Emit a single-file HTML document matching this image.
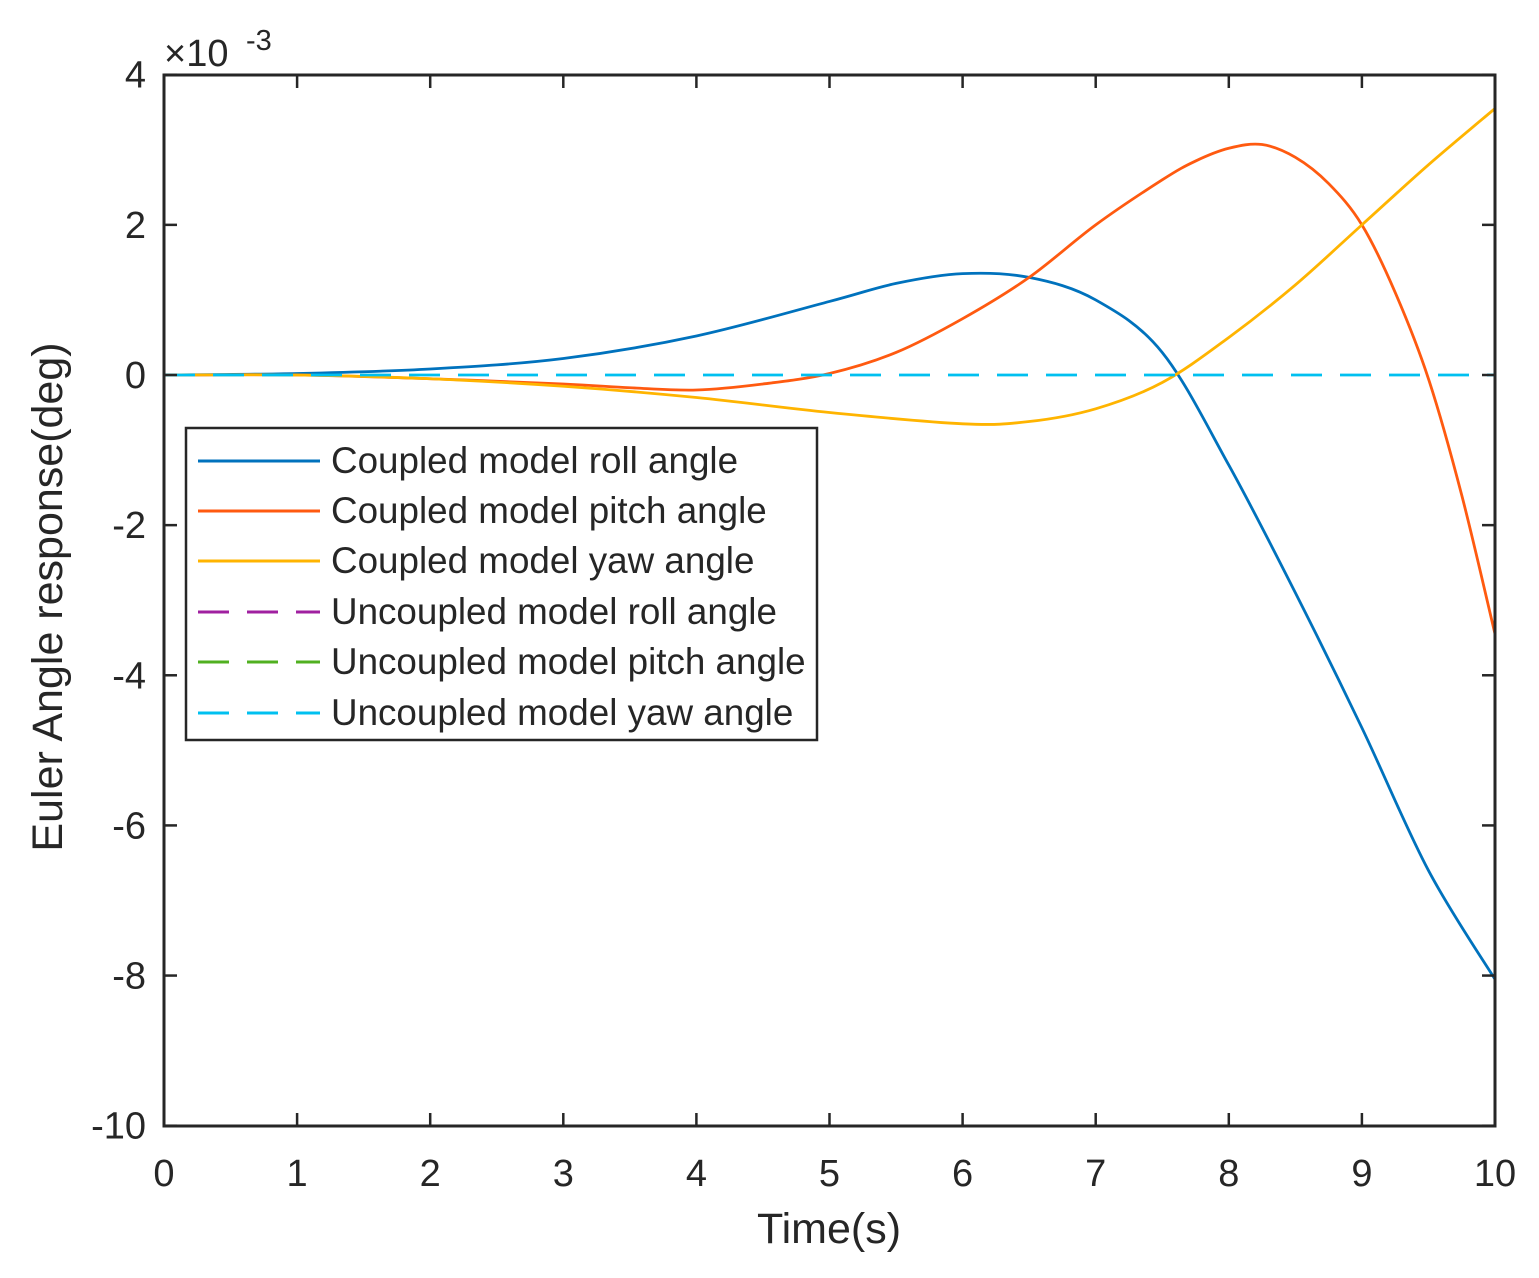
<!DOCTYPE html>
<html><head><meta charset="utf-8"><style>
body{margin:0;background:#fff}
svg text{font-family:"Liberation Sans",Arial,sans-serif;fill:#262626}
</style></head><body>
<svg id="s" width="1539" height="1273" viewBox="0 0 1539 1273" xmlns="http://www.w3.org/2000/svg">
<rect width="1539" height="1273" fill="#fff"/>
<g id="curves" fill="none" stroke-width="2.8"></g>
<line x1="164" y1="375" x2="1495" y2="375" stroke="#00C0F0" stroke-width="2.8" stroke-dasharray="31,18"/>
<rect x="164" y="75" width="1331" height="1051" fill="none" stroke="#262626" stroke-width="3"/>
<g id="ticks" stroke="#262626" stroke-width="2.5"></g>
<g id="labels" font-size="38"></g>
<text x="164" y="66" font-size="38">×10</text>
<text x="246" y="50" font-size="29">-3</text>
<text x="829" y="1243" font-size="43" text-anchor="middle">Time(s)</text>
<text transform="translate(62,597) rotate(-90)" font-size="43" text-anchor="middle">Euler Angle response(deg)</text>
<rect x="186" y="428" width="631" height="312" fill="#fff" stroke="#262626" stroke-width="2.5"/>
<g stroke-width="3">
<line x1="198" y1="461" x2="320" y2="461" stroke="#0072BD"/>
<line x1="198" y1="511" x2="320" y2="511" stroke="#FF5A10"/>
<line x1="198" y1="561" x2="320" y2="561" stroke="#FFB400"/>
<line x1="198" y1="612" x2="320" y2="612" stroke="#A020A0" stroke-dasharray="31,18"/>
<line x1="198" y1="662" x2="320" y2="662" stroke="#50B020" stroke-dasharray="31,18"/>
<line x1="198" y1="713" x2="320" y2="713" stroke="#00C0F0" stroke-dasharray="31,18"/>
</g>
<g font-size="36.8" style="fill:#000">
<text x="331" y="473">Coupled model roll angle</text>
<text x="331" y="523">Coupled model pitch angle</text>
<text x="331" y="573">Coupled model yaw angle</text>
<text x="331" y="624">Uncoupled model roll angle</text>
<text x="331" y="674">Uncoupled model pitch angle</text>
<text x="331" y="725">Uncoupled model yaw angle</text>
</g>
</svg>
<script>
var NS="http://www.w3.org/2000/svg";
function X(t){return 164+t*133.1}
function Y(v){return 375-v*75.07}
var data={
"#0072BD":[[0,0],[1,0.02],[2,0.08],[3,0.22],[4,0.52],[5,0.98],[5.5,1.22],[6,1.35],[6.5,1.3],[7,1.0],[7.5,0.3],[8,-1.2],[8.5,-2.9],[9,-4.7],[9.5,-6.6],[10,-8.05]],
"#FF5A10":[[0,0],[1,0],[2,-0.05],[3,-0.12],[3.5,-0.17],[4,-0.2],[4.5,-0.12],[5,0.02],[5.5,0.3],[6,0.75],[6.5,1.3],[7,2.0],[7.5,2.6],[7.75,2.85],[8,3.02],[8.25,3.07],[8.5,2.9],[8.75,2.55],[9,2.0],[9.25,1.1],[9.5,-0.05],[9.75,-1.6],[10,-3.45]],
"#FFB400":[[0,0],[1,0],[2,-0.05],[3,-0.15],[4,-0.3],[5,-0.5],[6,-0.65],[6.5,-0.62],[7,-0.45],[7.5,-0.1],[8,0.5],[8.5,1.2],[9,2.0],[9.5,2.8],[10,3.55]]};
var g=document.getElementById("curves");
for(var c in data){var p=data[c].map(function(a){return[X(a[0]),Y(a[1])]});
var d="M"+p[0][0]+","+p[0][1];
for(var i=0;i<p.length-1;i++){var p0=p[i-1]||p[i],p1=p[i],p2=p[i+1],p3=p[i+2]||p2;
d+=" C"+(p1[0]+(p2[0]-p0[0])/6)+","+(p1[1]+(p2[1]-p0[1])/6)+" "+(p2[0]-(p3[0]-p1[0])/6)+","+(p2[1]-(p3[1]-p1[1])/6)+" "+p2[0]+","+p2[1];}
var e=document.createElementNS(NS,"path");e.setAttribute("d",d);e.setAttribute("stroke",c);g.appendChild(e);}
var tk=document.getElementById("ticks"),lb=document.getElementById("labels");
function L(x1,y1,x2,y2){var e=document.createElementNS(NS,"line");e.setAttribute("x1",x1);e.setAttribute("y1",y1);e.setAttribute("x2",x2);e.setAttribute("y2",y2);tk.appendChild(e);}
function T(x,y,s,a){var e=document.createElementNS(NS,"text");e.setAttribute("x",x);e.setAttribute("y",y);e.setAttribute("text-anchor",a);e.textContent=s;lb.appendChild(e);}
for(var t=0;t<=10;t++){var x=X(t);L(x,1126,x,1113);L(x,75,x,88);T(x,1186,""+t,"middle");}
for(var v=4;v>=-10;v-=2){var y=Y(v);L(164,y,177,y);L(1495,y,1482,y);T(146,y+13,""+v,"end");}
</script>
</body></html>
